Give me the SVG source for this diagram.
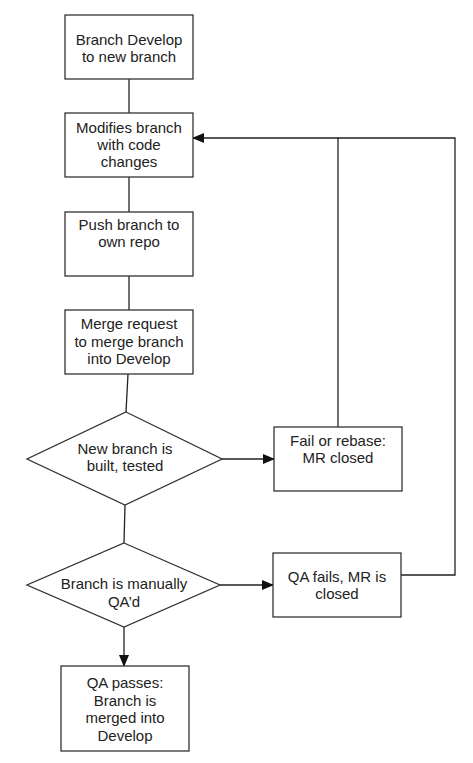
<svg xmlns="http://www.w3.org/2000/svg" width="473" height="763" viewBox="0 0 473 763">
<defs>
<style>
.n{fill:#fff;stroke:#333;stroke-width:1.3}
.c{fill:none;stroke:#222;stroke-width:1.3}
text{font-family:"Liberation Sans",Arial,sans-serif;font-size:15px;fill:#222;text-anchor:middle}
</style>
<marker id="ah" markerWidth="12" markerHeight="10" refX="11" refY="5" orient="auto" markerUnits="userSpaceOnUse">
<path d="M0,0 L12,5 L0,10 Z" fill="#111"/>
</marker>
</defs>
<rect width="473" height="763" fill="#fff"/>
<g id="connectors">
<line class="c" x1="129" y1="79" x2="129" y2="113"/>
<line class="c" x1="129" y1="177" x2="129" y2="212"/>
<line class="c" x1="129" y1="276" x2="129" y2="310"/>
<line class="c" x1="128" y1="374" x2="126" y2="412"/>
<line class="c" x1="125" y1="505" x2="124" y2="543"/>
<line class="c" x1="124" y1="627" x2="124" y2="666" marker-end="url(#ah)"/>
<line class="c" x1="222" y1="459" x2="274" y2="459" marker-end="url(#ah)"/>
<line class="c" x1="220" y1="585" x2="273" y2="585" marker-end="url(#ah)"/>
<polyline class="c" points="338,427 338,138 193,138" marker-end="url(#ah)"/>
<polyline class="c" points="401,575 455,575 455,138 338,138"/>
</g>
<g id="n1"><rect class="n" x="65" y="15" width="128" height="64"/><text x="129" y="45">Branch Develop</text><text x="129" y="62">to new branch</text></g>
<g id="n2"><rect class="n" x="65" y="113" width="128" height="64"/><text x="129" y="133">Modifies branch</text><text x="129" y="150">with code</text><text x="129" y="167">changes</text></g>
<g id="n3"><rect class="n" x="65" y="212" width="128" height="64"/><text x="129" y="230">Push branch to</text><text x="129" y="247">own repo</text></g>
<g id="n4"><rect class="n" x="65" y="310" width="128" height="64"/><text x="129" y="329">Merge request</text><text x="129" y="347">to merge branch</text><text x="129" y="364">into Develop</text></g>
<g id="d1"><polygon class="n" points="126,412 222,459 125,505 27,459"/><text x="125" y="454">New branch is</text><text x="125" y="471">built, tested</text></g>
<g id="n5"><rect class="n" x="274" y="427" width="128" height="64"/><text x="338" y="446">Fail or rebase:</text><text x="338" y="463">MR closed</text></g>
<g id="d2"><polygon class="n" points="124,543 220,585 124,627 27,585"/><text x="124" y="589">Branch is manually</text><text x="124" y="607">QA’d</text></g>
<g id="n6"><rect class="n" x="273" y="553" width="128" height="64"/><text x="337" y="582">QA fails, MR is</text><text x="337" y="599">closed</text></g>
<g id="n7"><rect class="n" x="61" y="666" width="128" height="85"/><text x="125" y="688">QA passes:</text><text x="125" y="706">Branch is</text><text x="125" y="723">merged into</text><text x="125" y="741">Develop</text></g>
</svg>
